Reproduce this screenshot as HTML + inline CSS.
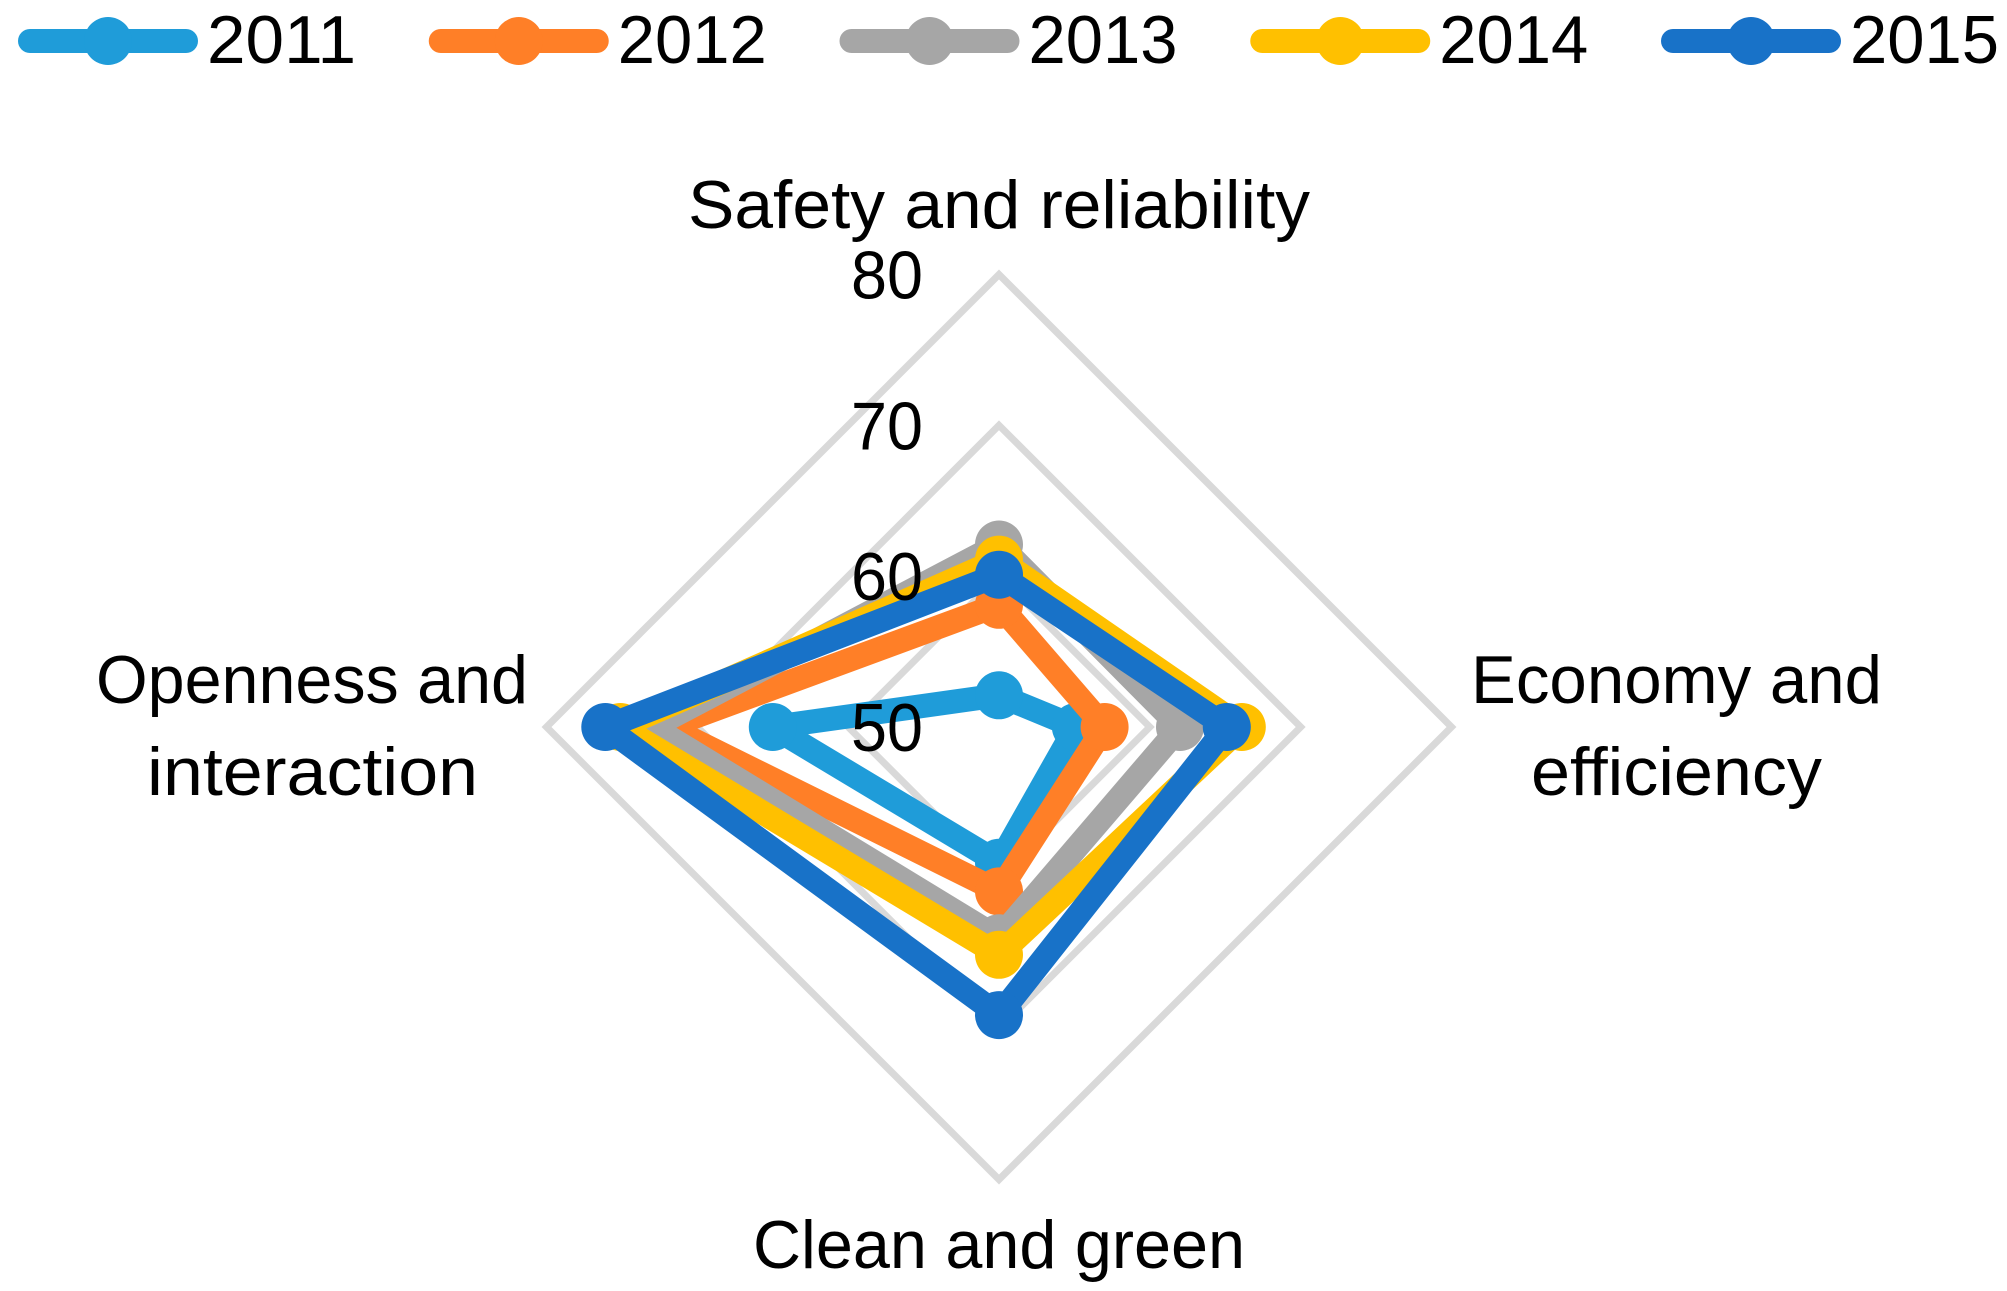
<!DOCTYPE html>
<html lang="en">
<head>
<meta charset="utf-8">
<title>Radar chart 2011–2015</title>
<style>
  html, body { margin: 0; padding: 0; background: #fff; }
  body { width: 2007px; height: 1291px; overflow: hidden; }
  svg { display: block; }
  text { font-family: "Liberation Sans", sans-serif; fill: #000; }
  .big { font-size: 68px; }
</style>
</head>
<body>
<svg id="chart" xmlns="http://www.w3.org/2000/svg" width="2007" height="1291" viewBox="0 0 2007 1291">
  <rect x="0" y="0" width="2007" height="1291" fill="#ffffff"/>
  <g id="grid"></g>
  <g id="series"></g>
  <g id="ticks"></g>
  <g id="legend"></g>
  <g>
    <text class="big" x="688" y="228" textLength="622" lengthAdjust="spacingAndGlyphs">Safety and reliability</text>
    <text class="big" x="1471" y="703" textLength="411" lengthAdjust="spacingAndGlyphs">Economy and</text>
    <text class="big" x="1531" y="795" textLength="291" lengthAdjust="spacingAndGlyphs">efficiency</text>
    <text class="big" x="753" y="1268" textLength="492" lengthAdjust="spacingAndGlyphs">Clean and green</text>
    <text class="big" x="96" y="703" textLength="432" lengthAdjust="spacingAndGlyphs">Openness and</text>
    <text class="big" x="147" y="795" textLength="331" lengthAdjust="spacingAndGlyphs">interaction</text>
  </g>
</svg>
<script>
// Axis order: Safety and reliability, Economy and efficiency, Clean and green, Openness and interaction
var categories = ["Safety and reliability", "Economy and efficiency", "Clean and green", "Openness and interaction"];
var tickValues = [50, 60, 70, 80];
var years = ["2011", "2012", "2013", "2014", "2015"];
var colors = ["#1f9cd9", "#ff7f27", "#a6a6a6", "#ffc000", "#1872c8"];
var values2011 = [52.1, 55.1, 59.0, 65.0];
var values2012 = [58.1, 57.0, 60.9, 72.0];
var values2013 = [62.1, 62.0, 64.0, 73.0];
var values2014 = [61.1, 66.1, 65.1, 75.1];
var values2015 = [60.1, 65.1, 69.1, 76.1];
var seriesValues = [values2011, values2012, values2013, values2014, values2015];

var NS = "http://www.w3.org/2000/svg";
var cx = 999, cy = 727, outerR = 452.5;
var axisMin = tickValues[0], axisMax = tickValues[tickValues.length - 1];

function radius(v) { return outerR * (v - axisMin) / (axisMax - axisMin); }
function point(i, v) {
  var a = -Math.PI / 2 + i * 2 * Math.PI / categories.length;
  var r = radius(v);
  return [cx + r * Math.cos(a), cy + r * Math.sin(a)];
}
function make(tag, attrs, parent) {
  var el = document.createElementNS(NS, tag);
  for (var k in attrs) el.setAttribute(k, attrs[k]);
  parent.appendChild(el);
  return el;
}

var gridG = document.getElementById("grid");
var seriesG = document.getElementById("series");
var ticksG = document.getElementById("ticks");
var legendG = document.getElementById("legend");

// grid rings
tickValues.forEach(function (t) {
  if (t === axisMin) return;
  var pts = categories.map(function (c, i) { return point(i, t).map(function (n) { return n.toFixed(1); }).join(","); }).join(" ");
  var ring = make("polygon", { points: pts, fill: "none", stroke: "#d9d9d9", "stroke-width": 7, "stroke-linejoin": "miter" }, gridG);
  
  
});

// series lines and markers
seriesValues.forEach(function (vals, s) {
  var g = make("g", {}, seriesG);
  
  
  var pts = vals.map(function (v, i) { return point(i, v).map(function (n) { return n.toFixed(1); }).join(","); }).join(" ");
  var line = make("polygon", { points: pts, fill: "none", stroke: colors[s], "stroke-width": 24, "stroke-linejoin": "round" }, g);
  
  
  vals.forEach(function (v, i) {
    var p = point(i, v);
    var dot = make("circle", { cx: p[0].toFixed(1), cy: p[1].toFixed(1), r: 24, fill: colors[s] }, g);
    
    
  });
});

// radial tick labels
tickValues.forEach(function (t) {
  var label = make("text", { x: 851, y: (cy - radius(t) + 24).toFixed(1), "class": "big", textLength: 72, lengthAdjust: "spacingAndGlyphs" }, ticksG);
  label.textContent = String(t);
  
  
});

// legend
years.forEach(function (y, s) {
  var x0 = 30 + s * 410.75;
  var g = make("g", {}, legendG);
  
  
  var sw = make("line", { x1: x0, y1: 41, x2: x0 + 156, y2: 41, stroke: colors[s], "stroke-width": 24, "stroke-linecap": "round" }, g);
  
  
  var dot = make("circle", { cx: x0 + 78, cy: 41, r: 24, fill: colors[s] }, g);
  
  
  var txt = make("text", { x: x0 + 177, y: 63, "class": "big", textLength: 149, lengthAdjust: "spacingAndGlyphs" }, g);
  txt.textContent = y;
  
  
});
</script>
</body>
</html>
